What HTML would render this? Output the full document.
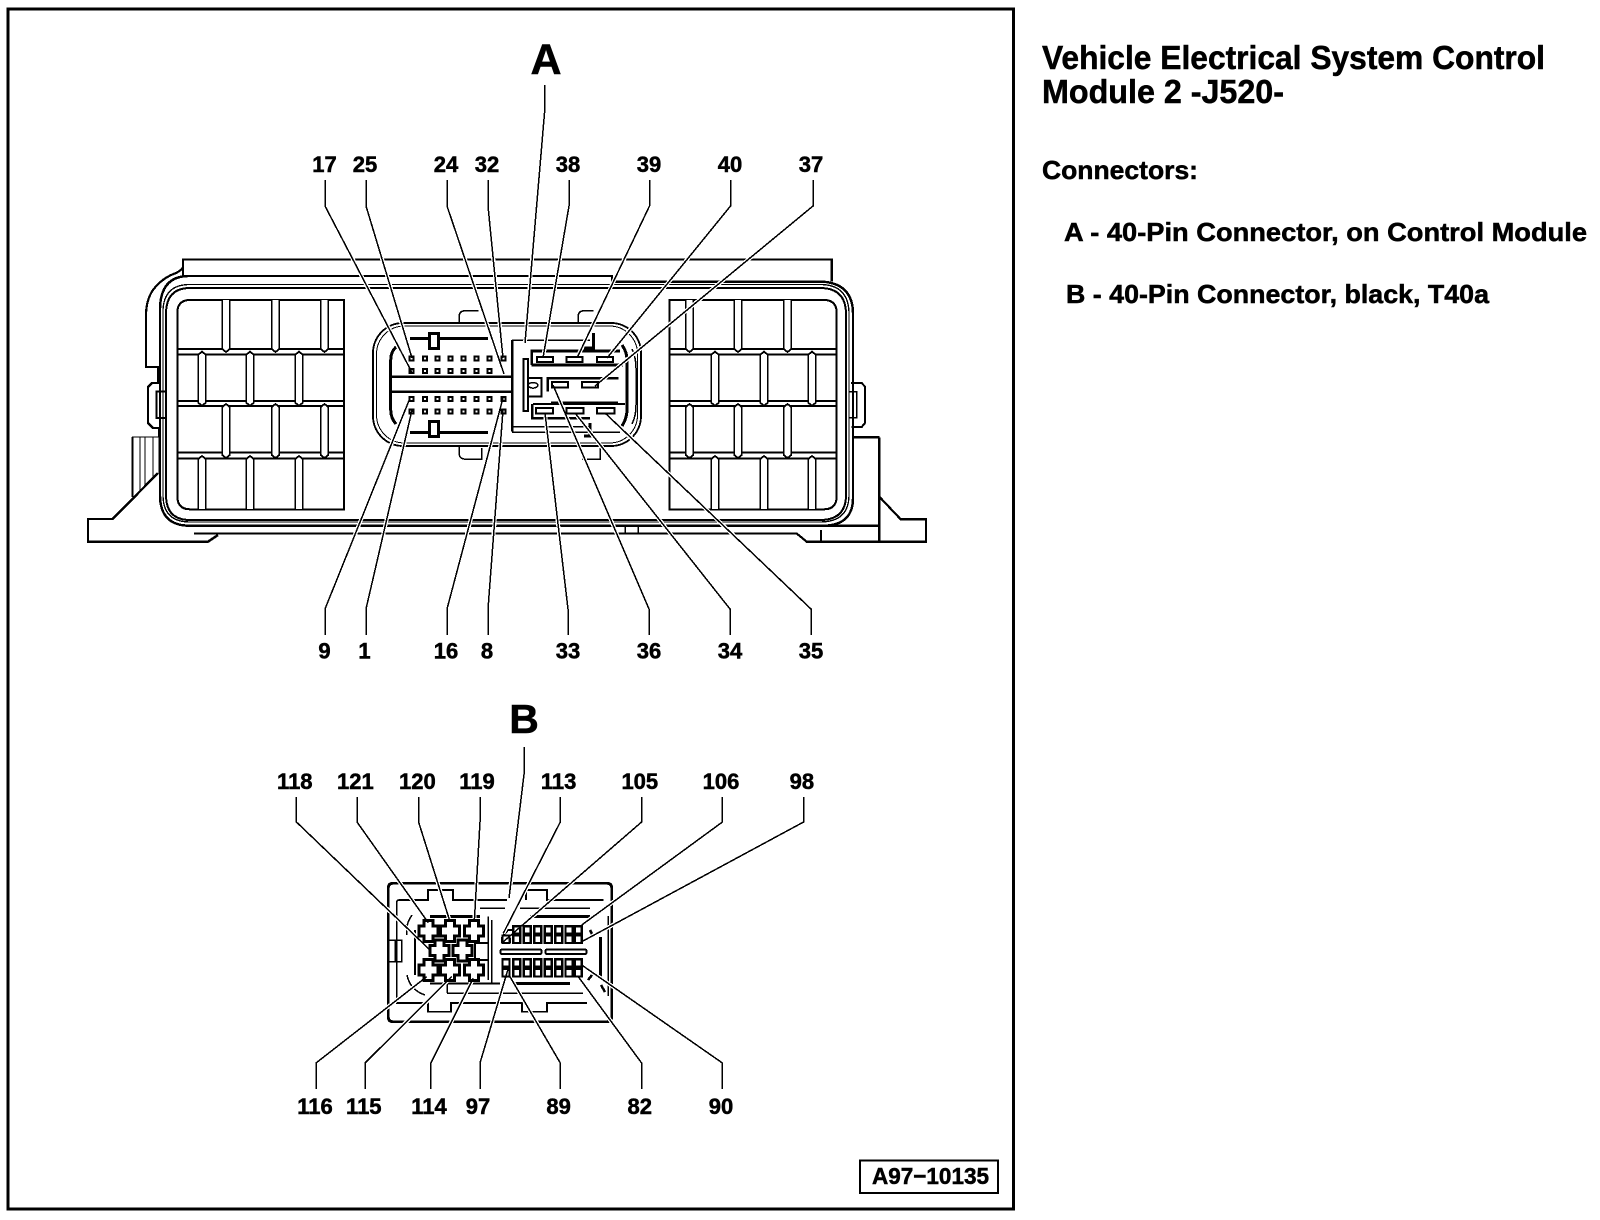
<!DOCTYPE html>
<html><head><meta charset="utf-8"><title>Vehicle Electrical System Control Module 2 -J520-</title>
<style>html,body{margin:0;padding:0;background:#fff}svg{display:block}
text{font-family:"Liberation Sans",Arial,sans-serif;font-weight:bold;fill:#000;stroke:#000;stroke-width:.5}
.n{font-size:22px;text-anchor:middle}</style></head><body>
<svg xmlns="http://www.w3.org/2000/svg" width="1600" height="1220" viewBox="0 0 1600 1220" shape-rendering="crispEdges">
<defs>
<rect id="p" x="-2" y="-2" width="4" height="4" fill="#fff" stroke="#000" stroke-width="2"/>
<rect id="q" x="-3.5" y="-3.7" width="7" height="7.4" fill="#fff" stroke="#000" stroke-width="2.2"/>
<path id="b" d="M-3.8 3V51L0 54L3.8 51V3L0 0Z" fill="#fff" stroke="#000" stroke-width="1.8"/>
<path id="bt" d="M-3.8 0V49L0 52L3.8 49V0" fill="#fff" stroke="#000" stroke-width="1.8"/>
<path id="bb" d="M-3.8 53V3L0 0L3.8 3V53" fill="#fff" stroke="#000" stroke-width="1.8"/>
<path id="x" d="M-4.5 -10.5H4.5V-5H9.5V5H4.5V10.5H-4.5V5H-9.5V-5H-4.5Z" fill="#fff" stroke="#000" stroke-width="3"/>
<g id="L" fill="none">
<path d="M325 180V206L411.7 372"/><path d="M366 180V206L412 358"/><path d="M447 180V206L504 374"/><path d="M488 180V206L503 358"/>
<path d="M544.5 85V113L525 343"/><path d="M569 180V206L543 358"/><path d="M649.5 180V206L577 358"/><path d="M730.5 180V206L607 358"/><path d="M813 180V206L595 386"/>
<path d="M325 635V609L410 398"/><path d="M366 635V609L412 410"/><path d="M447 635V609L503 398"/><path d="M488 635V609L503 410"/>
<path d="M568 635V609L545 413"/><path d="M649 635V609L553 385"/><path d="M730 635V609L575 413"/><path d="M811 635V609L605 413"/>
<path d="M296.4 797V822L430 950"/><path d="M357 797V822L428.3 922.7"/><path d="M418.6 797V822L450 921.7"/><path d="M480 797V822L474.3 921.7"/>
<path d="M560.3 797V822L503.3 933.3"/><path d="M641.6 797V822L503.3 941.7"/><path d="M722.4 797V822L581.7 925"/><path d="M803.6 797V822L581.7 941.7"/>
<path d="M524.3 747V772L509 898"/>
<path d="M316 1089V1063L426.7 976.7"/><path d="M365 1089V1063L451.7 976.7"/><path d="M430.8 1089V1063L473.3 978.3"/><path d="M480 1089V1063L508.3 968.3"/>
<path d="M560.3 1089V1063L510 976.7"/><path d="M641.6 1089V1063L578.3 976.7"/><path d="M722.4 1089V1063L581.7 965"/>
</g>
</defs>
<rect width="1600" height="1220" fill="#fff"/>
<rect x="8" y="9" width="1005.500" height="1200" fill="none" stroke="#000" stroke-width="3"/>
<rect x="860" y="1160.500" width="138" height="32.500" fill="none" stroke="#000" stroke-width="1.800"/>
<text x="872" y="1184" font-size="23" textLength="117" lengthAdjust="spacingAndGlyphs">A97−10135</text>

<g fill="none" stroke="#000" stroke-width="2">
<!-- module outer -->
<path d="M189 276H612V281.700H823Q853 284 853 314V498Q853 526 822 525.700H190Q160 526 160 495V310Q160 276 189 276" stroke-width="2.400"/>
<path d="M190 284.500H820Q849 284.500 849 314V495Q849 522 820 522H190Q163 522 163 495V312Q163 284.500 190 284.500" stroke-width="1.300"/>
<path d="M190 288H820Q846 288 846 314V495Q846 520 820 520H190Q166 520 166 495V314Q166 288 190 288" stroke-width="2"/>
<path d="M183 276V259.500H831.700V281.700" stroke-width="2.400"/>
<path d="M183 259.500V267Q182 270 176 273Q162 278 153 290Q146 300 146 316V367H158V383H152L148 387V423L153 428H159V437" stroke-width="2.200"/>
<path d="M159 437H132.700V497M140 437V490M145 437V486M153 437V477M159 437V473" stroke-width="1.300"/>
<path d="M132.700 437V497" stroke-width="2"/>
<path d="M158 473L112.700 519H88V541.700H208L218 535" stroke-width="2.400"/>
<path d="M194 533.500H796.700L806.700 541.700H926V519.300H900.700L879.300 496.700M879.300 437.300V541.700M853 437.300H879.300M821.700 525.700H879.300M821 530V541.700" stroke-width="2.200"/>
<path d="M625 526V533H638V526" stroke-width="1.500"/>
<path d="M851 383H861.700L865 386.700V423L861.700 427H851.700" stroke-width="2"/>
<path d="M849.300 391.700H856.700V417.700H849.300" stroke-width="1.800"/>
<path d="M165 391.700H156.700V418H165" stroke-width="2"/>
<!-- left grid -->
<path d="M344 300H190Q177.300 300 177.300 313V496Q177.300 509.300 190 509.300H344Z" stroke-width="2"/>
<path d="M178 349H344M178 354.700H344M178 401H344M178 406H344M178 452.300H344M178 458.300H344" stroke-width="2"/>
<!-- right grid -->
<path d="M669.300 300H824Q836.700 300 836.700 313V496Q836.700 509.300 824 509.300H669.300Z" stroke-width="2"/>
<path d="M670 349H836M670 354.700H836M670 401H836M670 406H836M670 452.300H836M670 458.300H836" stroke-width="2"/>
</g>
<g>
<use href="#bt" x="226" y="300"/><use href="#bt" x="275.500" y="300"/><use href="#bt" x="324.500" y="300"/>
<use href="#b" x="202" y="351.700"/><use href="#b" x="250" y="351.700"/><use href="#b" x="299" y="351.700"/>
<use href="#b" x="226" y="404"/><use href="#b" x="275.500" y="404"/><use href="#b" x="324.500" y="404"/>
<use href="#bb" x="202" y="456"/><use href="#bb" x="250" y="456"/><use href="#bb" x="299" y="456"/>
<use href="#bt" x="689.500" y="300"/><use href="#bt" x="738" y="300"/><use href="#bt" x="787.500" y="300"/>
<use href="#b" x="715" y="351.700"/><use href="#b" x="764" y="351.700"/><use href="#b" x="812" y="351.700"/>
<use href="#b" x="689.500" y="404"/><use href="#b" x="738" y="404"/><use href="#b" x="787.500" y="404"/>
<use href="#bb" x="715" y="456"/><use href="#bb" x="764" y="456"/><use href="#bb" x="812" y="456"/>
</g>

<!-- connector A -->
<g fill="none" stroke="#000" stroke-width="2">
<rect x="373" y="323" width="268" height="123" rx="30" stroke-width="1.800"/>
<rect x="376.500" y="326" width="261" height="117" rx="28" stroke-width="1"/>
<path d="M459.300 322V316Q459.300 310.700 466 310.700H478.300M578.300 322V316Q578.300 310.700 585 310.700H593.300" stroke-width="1.500"/>
<path d="M459.300 447V454Q459.300 459.300 467 459.300H481.700V448M582 459.300H600V448" stroke-width="1.500"/>
<path d="M396 347Q390.700 352 390.700 360V410Q390.700 418 396 424" stroke-width="3"/>
<path d="M622 345Q627 352 627 360V410Q627 418 622 426" stroke-width="3"/>
<path d="M632 349Q636 358 636 368V405Q636 416 632 424" stroke-width="1.500"/>
<path d="M410 338.300H428M440 338.300H488M410 432.300H428M440 432.300H488" stroke-width="3"/>
<path d="M390.700 376.700H513.300M390.700 391.700H513.300" stroke-width="2.400"/>
<path d="M512.300 340V431.700" stroke-width="2.400"/>
<path d="M512 340H590" stroke-width="1.500"/>
<path d="M512 426.700H590M512 432.300H620" stroke-width="1.800"/>
<path d="M531.700 365V351H620M531.700 365H623" stroke-width="2.600"/>
<path d="M547.700 391.700V378.300H618.300M551 402.700H618M533 404H625M532.300 404V418.300H590" stroke-width="2.200"/>
<rect x="523.500" y="359" width="4.500" height="52" stroke-width="2"/>
<path d="M528 378H541.700V396.700H528" stroke-width="2"/>
<ellipse cx="533" cy="385.300" rx="4.800" ry="2.800" stroke-width="1.500"/>
<path d="M593.500 333V348H584" stroke-width="3"/>
<path d="M590 423V436H584" stroke-width="3"/>
</g>

<!-- connector B -->
<g fill="none" stroke="#000" stroke-width="2">
<path d="M393 883.300H607Q611.700 883.300 611.700 888V1017Q611.700 1021.700 607 1021.700H393Q388.300 1021.700 388.300 1017V888Q388.300 883.300 393 883.300Z" stroke-width="2.800"/>
<path d="M603.500 900H547V890H526V900M507 900H453V890H428V900H399Q396.700 900 396.700 903V1003H428V1011.700H451V1003H522V1011.700H547V1003H587" stroke-width="1.600"/>
<path d="M430 916.700H480M530 916.700H590" stroke-width="3"/>
<path d="M480 908.300H505M520 908.300H590" stroke-width="1.500"/>
<path d="M513 983.300H570" stroke-width="3"/>
<path d="M447 993.300H583" stroke-width="1.500"/>
<path d="M447 983V993" stroke-width="1.500"/>
<path d="M430 983.300H500" stroke-width="2"/>
<path d="M488.300 916.700V980M491.700 920V983" stroke-width="1.500"/>
<path d="M412 915Q405 925 407 935M407 975Q410 990 425 995" stroke-width="1.500"/>
<path d="M608 916V996" stroke-width="1.500"/>
<path d="M600.500 937V977" stroke-width="3"/>
<path d="M590 930L593 936M588 980L592 975M601 985L605 992" stroke-width="2.500"/>
<path d="M388.300 940H401.700V961.700H388.300M395 940V961.700" stroke-width="1.500"/>
<path d="M415 930V975" stroke-width="2"/>
<path d="M480 943H475V960H480M474 960V975" stroke-width="2"/>
<path d="M480 943H488M480 960H488" stroke-width="2"/>
<rect x="500.500" y="949.500" width="41" height="4.500" rx="1.500" fill="#fff" stroke-width="2"/>
<rect x="545.500" y="949.500" width="41" height="4.500" rx="1.500" fill="#fff" stroke-width="2"/>
<path d="M503 936L508 930H512M502 942V938H510V942Z" stroke-width="2"/>
</g>

<!-- white halo of leaders, drawn under the pins -->
<use href="#L" stroke="#fff" stroke-width="4"/>

<!-- pins and plugs -->
<g fill="#fff" stroke="#000">
<g stroke-width="3"><rect x="429.500" y="333.500" width="9" height="15"/><rect x="429.500" y="421.500" width="9" height="15"/></g>
<g stroke-width="2.400">
<rect x="537" y="357" width="16" height="5"/><rect x="566.500" y="357" width="16" height="5"/><rect x="597" y="357" width="16" height="5"/>
<rect x="552" y="382" width="16" height="5.500"/><rect x="582" y="382" width="16" height="5.500"/>
<rect x="536" y="408" width="17" height="5.500"/><rect x="566.500" y="408" width="17" height="5.500"/><rect x="597" y="408" width="17.500" height="5.500"/>
</g>
</g>
<g>
<use href="#p" x="411.700" y="358.300"/><use href="#p" x="425" y="358.300"/><use href="#p" x="437.700" y="358.300"/><use href="#p" x="450.300" y="358.300"/><use href="#p" x="463.300" y="358.300"/><use href="#p" x="476.300" y="358.300"/><use href="#p" x="489.300" y="358.300"/><use href="#p" x="503.300" y="358.300"/>
<use href="#p" x="411.700" y="371"/><use href="#p" x="425" y="371"/><use href="#p" x="437.700" y="371"/><use href="#p" x="450.300" y="371"/><use href="#p" x="463.300" y="371"/><use href="#p" x="476.300" y="371"/><use href="#p" x="489.300" y="371"/>
<use href="#p" x="411.700" y="399"/><use href="#p" x="425" y="399"/><use href="#p" x="437.700" y="399"/><use href="#p" x="450.300" y="399"/><use href="#p" x="463.300" y="399"/><use href="#p" x="476.300" y="399"/><use href="#p" x="489.300" y="399"/><use href="#p" x="503.300" y="399"/>
<use href="#p" x="411.700" y="411.700"/><use href="#p" x="425" y="411.700"/><use href="#p" x="437.700" y="411.700"/><use href="#p" x="450.300" y="411.700"/><use href="#p" x="463.300" y="411.700"/><use href="#p" x="476.300" y="411.700"/><use href="#p" x="489.300" y="411.700"/><use href="#p" x="503.300" y="411.700"/>
<use href="#x" x="428.300" y="931"/><use href="#x" x="450" y="931"/><use href="#x" x="474" y="931"/>
<use href="#x" x="439.300" y="950.700"/><use href="#x" x="462.700" y="950.700"/>
<use href="#x" x="428.300" y="970"/><use href="#x" x="450" y="970"/><use href="#x" x="474" y="970"/>
<use href="#q" x="516.700" y="930"/><use href="#q" x="527.300" y="930"/><use href="#q" x="537.700" y="930"/><use href="#q" x="548.300" y="930"/><use href="#q" x="558.700" y="930"/><use href="#q" x="569" y="930"/><use href="#q" x="578.300" y="930"/>
<use href="#q" x="506" y="939.300"/><use href="#q" x="516.700" y="939.300"/><use href="#q" x="527.300" y="939.300"/><use href="#q" x="537.700" y="939.300"/><use href="#q" x="548.300" y="939.300"/><use href="#q" x="558.700" y="939.300"/><use href="#q" x="569" y="939.300"/><use href="#q" x="578.300" y="939.300"/>
<use href="#q" x="506" y="963"/><use href="#q" x="516.700" y="963"/><use href="#q" x="527.300" y="963"/><use href="#q" x="537.700" y="963"/><use href="#q" x="548.300" y="963"/><use href="#q" x="558.700" y="963"/><use href="#q" x="569" y="963"/><use href="#q" x="578.300" y="963"/>
<use href="#q" x="506" y="972.700"/><use href="#q" x="516.700" y="972.700"/><use href="#q" x="527.300" y="972.700"/><use href="#q" x="537.700" y="972.700"/><use href="#q" x="548.300" y="972.700"/><use href="#q" x="558.700" y="972.700"/><use href="#q" x="569" y="972.700"/><use href="#q" x="578.300" y="972.700"/>
</g>

<!-- leaders -->
<use href="#L" stroke="#000" stroke-width="1.500"/>

<!-- labels -->
<text x="546" y="74" font-size="43" text-anchor="middle" stroke-width=".8">A</text>
<text x="524" y="733" font-size="41" text-anchor="middle" stroke-width=".8">B</text>
<g class="n">
<text class="n" x="324.500" y="172">17</text><text class="n" x="365" y="172">25</text><text class="n" x="446" y="172">24</text><text class="n" x="487" y="172">32</text><text class="n" x="568" y="172">38</text><text class="n" x="649" y="172">39</text><text class="n" x="730" y="172">40</text><text class="n" x="811" y="172">37</text>
<text class="n" x="324.500" y="658.500">9</text><text class="n" x="364.500" y="658.500">1</text><text class="n" x="446" y="658.500">16</text><text class="n" x="487" y="658.500">8</text><text class="n" x="568" y="658.500">33</text><text class="n" x="649" y="658.500">36</text><text class="n" x="730" y="658.500">34</text><text class="n" x="811" y="658.500">35</text>
<text class="n" x="294.800" y="789">118</text><text class="n" x="355.400" y="789">121</text><text class="n" x="417.400" y="789">120</text><text class="n" x="477" y="789">119</text><text class="n" x="558.600" y="789">113</text><text class="n" x="639.800" y="789">105</text><text class="n" x="721" y="789">106</text><text class="n" x="801.900" y="789">98</text>
<text class="n" x="315" y="1114">116</text><text class="n" x="363.800" y="1114">115</text><text class="n" x="429" y="1114">114</text><text class="n" x="478" y="1114">97</text><text class="n" x="558.600" y="1114">89</text><text class="n" x="639.800" y="1114">82</text><text class="n" x="721" y="1114">90</text>
</g>
<text x="1042" y="69" font-size="33" textLength="503" lengthAdjust="spacingAndGlyphs" stroke-width=".6">Vehicle Electrical System Control</text>
<text x="1042" y="103" font-size="33" textLength="242" lengthAdjust="spacingAndGlyphs" stroke-width=".6">Module 2 -J520-</text>
<text x="1042" y="179" font-size="26" textLength="156" lengthAdjust="spacingAndGlyphs">Connectors:</text>
<text x="1064" y="241" font-size="26" textLength="523" lengthAdjust="spacingAndGlyphs">A - 40-Pin Connector, on Control Module</text>
<text x="1066" y="303" font-size="26" textLength="423" lengthAdjust="spacingAndGlyphs">B - 40-Pin Connector, black, T40a</text>
</svg>
</body></html>
